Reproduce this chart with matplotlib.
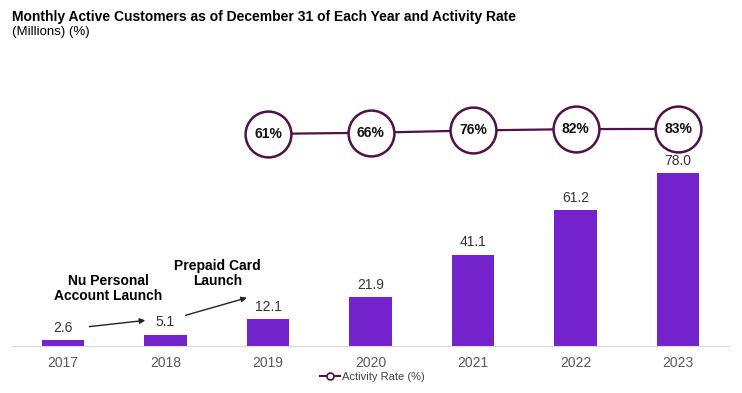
import matplotlib
matplotlib.use("Agg")
from matplotlib import pyplot as plt
from matplotlib.lines import Line2D

plt.rcParams['font.family'] = ['Liberation Sans', 'DejaVu Sans']

years = ["2017", "2018", "2019", "2020", "2021", "2022", "2023"]
customers = [2.6, 5.1, 12.1, 21.9, 41.1, 61.2, 78.0]
rate_years = [2, 3, 4, 5, 6]  # index of 2019..2023
activity_rate = [61, 66, 76, 82, 83]

bar_color = "#7422CC"
line_color = "#4E1248"

fig = plt.figure(figsize=(7.42, 3.93), dpi=100)
ax = fig.add_axes([11.75 / 742, 47 / 393, 717.5 / 742, 286 / 393])

x = list(range(len(years)))
ax.bar(x, customers, width=0.41, color=bar_color, zorder=2)
for xi, v in zip(x, customers):
    ax.text(xi, v + 2.5, f"{v:.1f}", ha="center", va="bottom", fontsize=10, color="#333333")

ax.set_xlim(-0.5, 6.5)
ax.set_ylim(0, 129)
ax.set_xticks(x)
ax.set_xticklabels(years, fontsize=10, color="#595959")
ax.tick_params(axis="x", length=0, pad=7)
ax.set_yticks([])
for s in ["top", "right", "left"]:
    ax.spines[s].set_visible(False)
ax.spines["bottom"].set_color("#D9D9D9")

# annotations
ax.annotate("", xy=(0.83, 11.7), xytext=(0.23, 8.6),
            arrowprops=dict(arrowstyle="-|>", color="#222222", lw=1, mutation_scale=8))
ax.annotate("", xy=(1.82, 22.1), xytext=(1.17, 13.5),
            arrowprops=dict(arrowstyle="-|>", color="#222222", lw=1, mutation_scale=8))
ax.text(0.44, 26, "Nu Personal\nAccount Launch", ha="center", va="center",
        fontsize=10, fontweight="bold", linespacing=1.15)
ax.text(1.51, 32.7, "Prepaid Card\nLaunch", ha="center", va="center",
        fontsize=10, fontweight="bold", linespacing=1.15)

# activity rate line on twin axis
ax2 = ax.twinx()
ax2.set_ylim(-872, 386)
ax2.axis("off")
ax2.plot(rate_years, activity_rate, color=line_color, lw=1.6, zorder=3,
         marker="o", markersize=33, markerfacecolor="white",
         markeredgecolor=line_color, markeredgewidth=1.8)
for xi, r in zip(rate_years, activity_rate):
    ax2.text(xi, r, f"{r}%", ha="center", va="center", fontsize=10,
             fontweight="bold", color="#111111", zorder=4)

fig.text(12 / 742, 1 - 17 / 393, "Monthly Active Customers as of December 31 of Each Year and Activity Rate",
         fontsize=10, fontweight="bold", va="center")
fig.text(12 / 742, 1 - 32 / 393, "(Millions) (%)", fontsize=9.5, va="center")

handle = Line2D([], [], color=line_color, lw=1.5, marker="o", markersize=5,
                markerfacecolor="white", markeredgecolor=line_color, markeredgewidth=1.2)
fig.legend([handle], ["Activity Rate (%)"], loc="center", bbox_to_anchor=(372 / 742, 1 - 377 / 393),
           frameon=False, fontsize=8, handlelength=1.8, handletextpad=0.2, labelcolor="#404040")

fig.savefig("out.png", dpi=100)
